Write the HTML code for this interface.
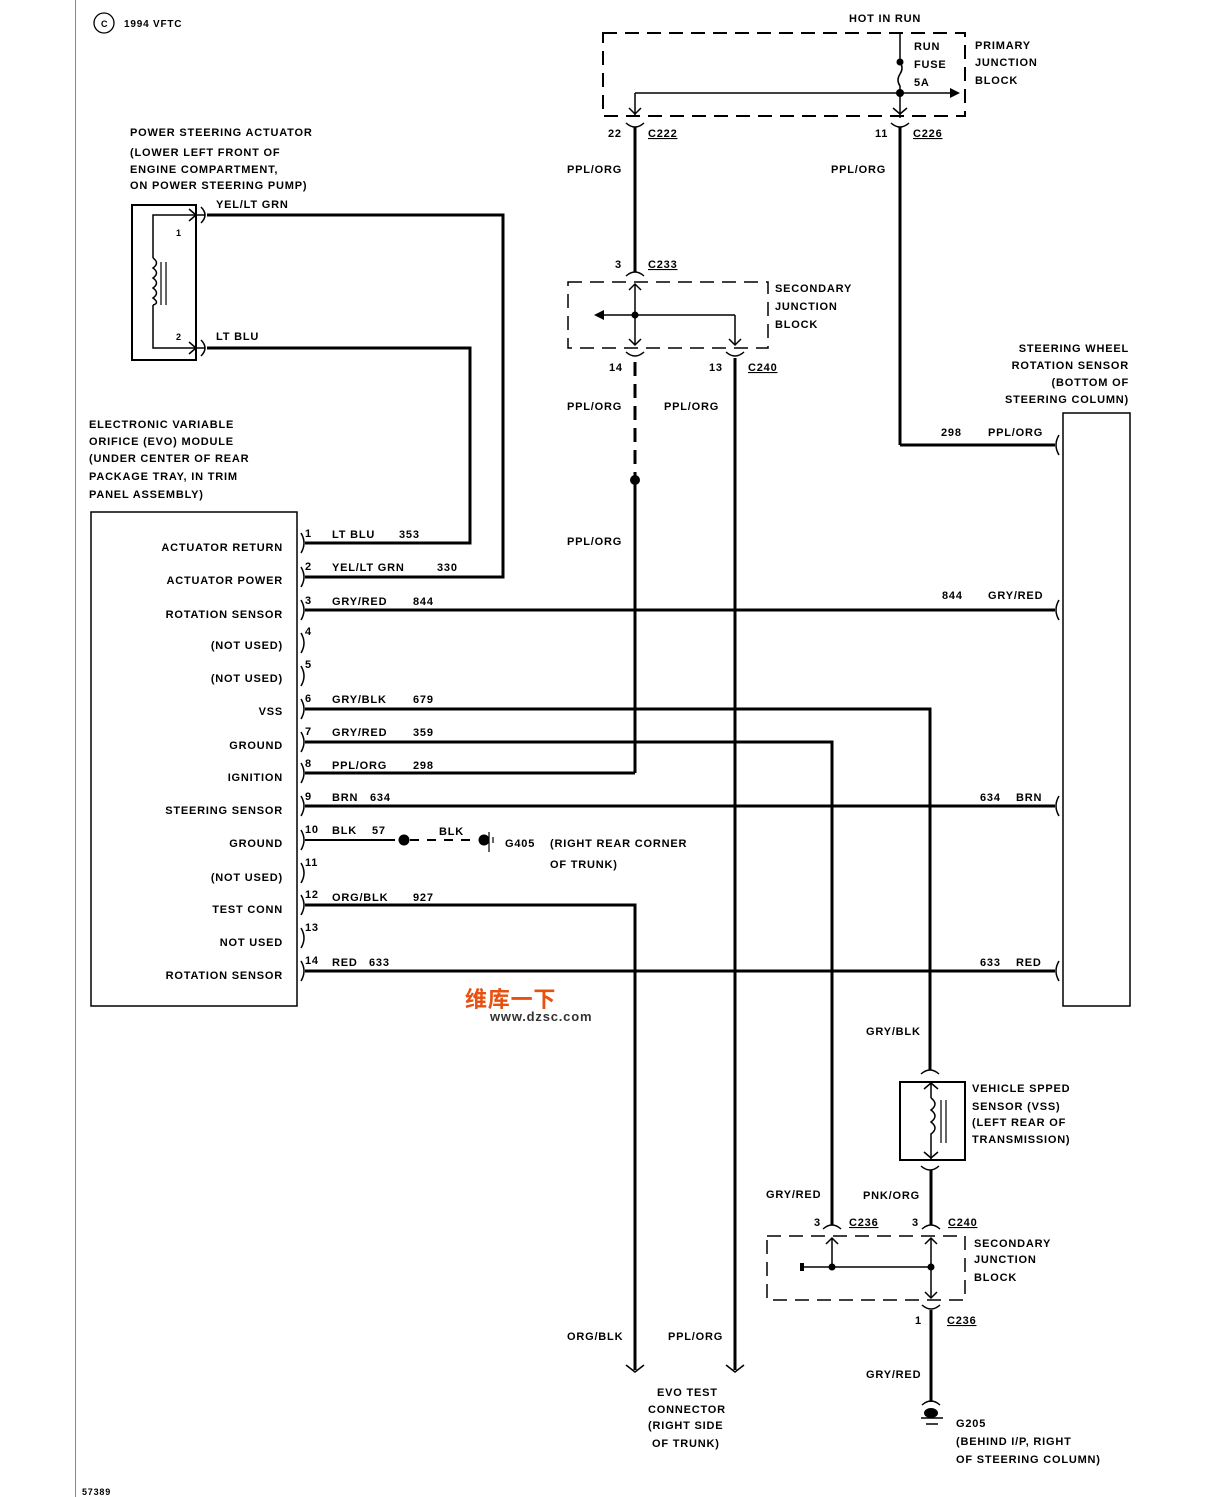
<!DOCTYPE html>
<html><head><meta charset="utf-8"><style>
html,body{margin:0;padding:0;background:#fff}
svg{display:block}
text{font-family:"Liberation Sans","Noto Sans CJK SC",sans-serif;font-size:11px;font-weight:bold;fill:#000;letter-spacing:0.8px}
.u{text-decoration:underline}
</style></head><body>
<svg width="1232" height="1497" viewBox="0 0 1232 1497" xmlns="http://www.w3.org/2000/svg">
<g stroke="#000" fill="none">
<line x1="75.5" y1="0" x2="75.5" y2="1497" stroke="#888" stroke-width="1"/>
<circle cx="104" cy="23" r="10" stroke-width="1.3"/>

<!-- primary JB -->
<rect x="603" y="33" width="362" height="83" stroke-width="2" stroke-dasharray="14,8"/>
<line x1="900" y1="33" x2="900" y2="62" stroke-width="1.5"/>
<path d="M900 62 q4 6 0 12 q-4 6 0 12 L900 118" stroke-width="1.5"/>
<line x1="635" y1="93" x2="955" y2="93" stroke-width="1.5"/>
<line x1="635" y1="93" x2="635" y2="116" stroke-width="1.5"/>
<path d="M629 108 L635 114 L641 108 M893 108 L900 114 L907 108" stroke-width="1.5"/>
<path d="M626 123 q9 8 18 0 M891 123 q9 8 18 0" stroke-width="1.5"/>
<!-- main wires -->
<line x1="635" y1="127" x2="635" y2="272" stroke-width="3"/>
<line x1="900" y1="127" x2="900" y2="445" stroke-width="3"/>
<line x1="900" y1="445" x2="1055" y2="445" stroke-width="3"/>

<!-- secondary JB top -->
<path d="M626 276 q9 -8 18 0" stroke-width="1.5"/>
<rect x="568" y="282" width="200" height="66" stroke-width="1.5" stroke-dasharray="14,8"/>
<path d="M629 290 L635 284 L641 290" stroke-width="1.5"/>
<line x1="635" y1="284" x2="635" y2="345" stroke-width="1.5"/>
<line x1="600" y1="315" x2="735" y2="315" stroke-width="1.5"/>
<line x1="735" y1="315" x2="735" y2="345" stroke-width="1.5"/>
<path d="M629 339 L635 345 L641 339 M729 339 L735 345 L741 339" stroke-width="1.5"/>
<path d="M626 352 q9 8 18 0 M726 352 q9 8 18 0" stroke-width="1.5"/>
<line x1="635" y1="362" x2="635" y2="480" stroke-width="3" stroke-dasharray="14,8"/>
<line x1="635" y1="480" x2="635" y2="773" stroke-width="3"/>
<line x1="735" y1="358" x2="735" y2="1370" stroke-width="3"/>

<!-- actuator -->
<rect x="132" y="205" width="64" height="155" stroke-width="2"/>
<path d="M205 215 L153 215 L153 258 M153 305 L153 348 L205 348" stroke-width="1.5"/>
<path d="M153 258 q7 5 0 10 q7 5 0 10 q7 5 0 10 q7 5 0 10 q7 5 0 7" stroke-width="1.5"/>
<line x1="161" y1="262" x2="161" y2="305" stroke-width="1.2"/>
<line x1="166" y1="262" x2="166" y2="305" stroke-width="1.2"/>
<path d="M189 209 L196 215 L189 221 M189 342 L196 348 L189 354" stroke-width="1.5"/>
<path d="M201 207 q8 8 0 16 M201 340 q8 8 0 16" stroke-width="1.5"/>
<path d="M207 215 L503 215 L503 577 L305 577" stroke-width="3"/>
<path d="M207 348 L470 348 L470 543 L305 543" stroke-width="3"/>

<!-- module -->
<rect x="91" y="512" width="206" height="494" stroke-width="1.5"/>
<g stroke-width="1.5">
<path d="M301 533 q6 10 0 20 M301 567 q6 10 0 20 M301 600 q6 10 0 20 M301 633 q6 10 0 20 M301 666 q6 10 0 20 M301 699 q6 10 0 20 M301 732 q6 10 0 20 M301 763 q6 10 0 20 M301 796 q6 10 0 20 M301 830 q6 10 0 20 M301 863 q6 10 0 20 M301 895 q6 10 0 20 M301 928 q6 10 0 20 M301 961 q6 10 0 20"/>
</g>
<line x1="305" y1="610" x2="1055" y2="610" stroke-width="3"/>
<path d="M305 709 L930 709 L930 1070" stroke-width="3"/>
<path d="M305 742 L832 742 L832 1225" stroke-width="3"/>
<line x1="305" y1="773" x2="635" y2="773" stroke-width="3"/>
<line x1="305" y1="806" x2="1055" y2="806" stroke-width="3"/>
<line x1="305" y1="840" x2="395" y2="840" stroke-width="2"/>
<line x1="410" y1="840" x2="478" y2="840" stroke-width="2" stroke-dasharray="9,8"/>
<line x1="489" y1="832" x2="489" y2="852" stroke-width="1.2"/>
<line x1="493" y1="837" x2="493" y2="843" stroke-width="1.2"/>
<path d="M305 905 L635 905 L635 1370" stroke-width="3"/>
<line x1="305" y1="971" x2="1055" y2="971" stroke-width="3"/>
<path d="M1059 435 q-6 10 0 20 M1059 600 q-6 10 0 20 M1059 796 q-6 10 0 20 M1059 961 q-6 10 0 20" stroke-width="1.5"/>
<rect x="1063" y="413" width="67" height="593" stroke-width="1.5"/>

<!-- VSS -->
<path d="M921 1074 q9 -8 18 0" stroke-width="1.5"/>
<rect x="900" y="1082" width="65" height="78" stroke-width="2"/>
<path d="M924 1089 L931 1083 L938 1089" stroke-width="1.5"/>
<line x1="931" y1="1083" x2="931" y2="1098" stroke-width="1.5"/>
<path d="M931 1098 q8 6 0 12 q8 6 0 12 q8 6 0 12 L931 1160" stroke-width="1.5"/>
<line x1="941" y1="1100" x2="941" y2="1143" stroke-width="1.2"/>
<line x1="946" y1="1100" x2="946" y2="1143" stroke-width="1.2"/>
<path d="M924 1152 L931 1158 L938 1152" stroke-width="1.5"/>
<path d="M921 1166 q9 8 18 0" stroke-width="1.5"/>
<line x1="931" y1="1170" x2="931" y2="1225" stroke-width="3"/>

<!-- secondary JB bottom -->
<path d="M823 1229 q9 -8 18 0 M922 1229 q9 -8 18 0" stroke-width="1.5"/>
<rect x="767" y="1236" width="198" height="64" stroke-width="1.5" stroke-dasharray="14,8"/>
<path d="M826 1244 L832 1238 L838 1244 M925 1244 L931 1238 L937 1244" stroke-width="1.5"/>
<line x1="832" y1="1238" x2="832" y2="1267" stroke-width="1.5"/>
<line x1="931" y1="1238" x2="931" y2="1298" stroke-width="1.5"/>
<line x1="802" y1="1267" x2="931" y2="1267" stroke-width="1.5"/>
<path d="M925 1292 L931 1298 L937 1292" stroke-width="1.5"/>
<path d="M922 1305 q9 8 18 0" stroke-width="1.5"/>
<line x1="931" y1="1310" x2="931" y2="1402" stroke-width="3"/>
<path d="M922 1405 q9 -8 18 0" stroke-width="1.5"/>
<line x1="921" y1="1418" x2="943" y2="1418" stroke-width="1.5"/>
<line x1="926" y1="1424" x2="938" y2="1424" stroke-width="1.5"/>
<path d="M626 1365 L635 1372 L644 1365 M726 1365 L735 1372 L744 1365" stroke-width="1.5"/>
</g>
<g fill="#000">
<circle cx="900" cy="62" r="3.5"/><circle cx="900" cy="93" r="4"/>
<path d="M950 88 L960 93 L950 98 Z"/>
<circle cx="635" cy="315" r="3.5"/><path d="M604 310 L594 315 L604 320 Z"/>
<circle cx="635" cy="480" r="5"/>
<circle cx="404" cy="840" r="5.5"/><circle cx="484" cy="840" r="5.5"/>
<circle cx="832" cy="1267" r="3.5"/><circle cx="931" cy="1267" r="3.5"/>
<rect x="800" y="1263" width="4" height="8"/>
<ellipse cx="931" cy="1413" rx="7" ry="5"/>
</g>

<text x="101" y="27" style="font-size:9px">C</text>
<text x="124" y="27" style="font-size:10px">1994 VFTC</text>
<text x="849" y="22">HOT IN RUN</text>
<text x="914" y="50">RUN</text><text x="914" y="68">FUSE</text><text x="914" y="86">5A</text>
<text x="975" y="49">PRIMARY</text><text x="975" y="66">JUNCTION</text><text x="975" y="84">BLOCK</text>
<text x="608" y="137">22</text><text x="648" y="137" class="u">C222</text>
<text x="875" y="137">11</text><text x="913" y="137" class="u">C226</text>
<text x="567" y="173">PPL/ORG</text><text x="831" y="173">PPL/ORG</text>
<text x="615" y="268">3</text><text x="648" y="268" class="u">C233</text>
<text x="775" y="292">SECONDARY</text><text x="775" y="310">JUNCTION</text><text x="775" y="328">BLOCK</text>
<text x="609" y="371">14</text><text x="709" y="371">13</text><text x="748" y="371" class="u">C240</text>
<text x="567" y="410">PPL/ORG</text><text x="664" y="410">PPL/ORG</text>
<text x="567" y="545">PPL/ORG</text>
<text x="130" y="136">POWER STEERING ACTUATOR</text>
<text x="130" y="156">(LOWER LEFT FRONT OF</text>
<text x="130" y="173">ENGINE COMPARTMENT,</text>
<text x="130" y="189">ON POWER STEERING PUMP)</text>
<text x="216" y="208">YEL/LT GRN</text><text x="216" y="340">LT BLU</text>
<text x="176" y="236" style="font-size:9px">1</text><text x="176" y="340" style="font-size:9px">2</text>
<text x="1129" y="352" text-anchor="end">STEERING WHEEL</text>
<text x="1129" y="369" text-anchor="end">ROTATION SENSOR</text>
<text x="1129" y="386" text-anchor="end">(BOTTOM OF</text>
<text x="1129" y="403" text-anchor="end">STEERING COLUMN)</text>
<text x="941" y="436">298</text><text x="988" y="436">PPL/ORG</text>
<text x="89" y="428">ELECTRONIC VARIABLE</text>
<text x="89" y="445">ORIFICE (EVO) MODULE</text>
<text x="89" y="462">(UNDER CENTER OF REAR</text>
<text x="89" y="480">PACKAGE TRAY, IN TRIM</text>
<text x="89" y="498">PANEL ASSEMBLY)</text>
<g text-anchor="end">
<text x="283" y="551">ACTUATOR RETURN</text>
<text x="283" y="584">ACTUATOR POWER</text>
<text x="283" y="618">ROTATION SENSOR</text>
<text x="283" y="649">(NOT USED)</text>
<text x="283" y="682">(NOT USED)</text>
<text x="283" y="715">VSS</text>
<text x="283" y="749">GROUND</text>
<text x="283" y="781">IGNITION</text>
<text x="283" y="814">STEERING SENSOR</text>
<text x="283" y="847">GROUND</text>
<text x="283" y="881">(NOT USED)</text>
<text x="283" y="913">TEST CONN</text>
<text x="283" y="946">NOT USED</text>
<text x="283" y="979">ROTATION SENSOR</text>
</g>
<g style="font-size:8px">
<text x="305" y="537">1</text><text x="305" y="570">2</text><text x="305" y="604">3</text><text x="305" y="635">4</text><text x="305" y="668">5</text><text x="305" y="702">6</text><text x="305" y="735">7</text><text x="305" y="767">8</text><text x="305" y="800">9</text><text x="305" y="833">10</text><text x="305" y="866">11</text><text x="305" y="898">12</text><text x="305" y="931">13</text><text x="305" y="964">14</text>
</g>
<text x="332" y="538">LT BLU</text><text x="399" y="538">353</text>
<text x="332" y="571">YEL/LT GRN</text><text x="437" y="571">330</text>
<text x="332" y="605">GRY/RED</text><text x="413" y="605">844</text>
<text x="332" y="703">GRY/BLK</text><text x="413" y="703">679</text>
<text x="332" y="736">GRY/RED</text><text x="413" y="736">359</text>
<text x="332" y="769">PPL/ORG</text><text x="413" y="769">298</text>
<text x="332" y="801">BRN</text><text x="370" y="801">634</text>
<text x="332" y="834">BLK</text><text x="372" y="834">57</text>
<text x="439" y="835">BLK</text>
<text x="505" y="847">G405</text>
<text x="550" y="847">(RIGHT REAR CORNER</text>
<text x="550" y="868">OF TRUNK)</text>
<text x="332" y="901">ORG/BLK</text><text x="413" y="901">927</text>
<text x="332" y="966">RED</text><text x="369" y="966">633</text>
<text x="942" y="599">844</text><text x="988" y="599">GRY/RED</text>
<text x="980" y="801">634</text><text x="1016" y="801">BRN</text>
<text x="980" y="966">633</text><text x="1016" y="966">RED</text>
<text x="866" y="1035">GRY/BLK</text>
<text x="972" y="1092">VEHICLE SPPED</text><text x="972" y="1110">SENSOR (VSS)</text>
<text x="972" y="1126">(LEFT REAR OF</text><text x="972" y="1143">TRANSMISSION)</text>
<text x="766" y="1198">GRY/RED</text><text x="863" y="1199">PNK/ORG</text>
<text x="814" y="1226">3</text><text x="849" y="1226" class="u">C236</text>
<text x="912" y="1226">3</text><text x="948" y="1226" class="u">C240</text>
<text x="974" y="1247">SECONDARY</text><text x="974" y="1263">JUNCTION</text><text x="974" y="1281">BLOCK</text>
<text x="915" y="1324">1</text><text x="947" y="1324" class="u">C236</text>
<text x="567" y="1340">ORG/BLK</text><text x="668" y="1340">PPL/ORG</text>
<text x="866" y="1378">GRY/RED</text>
<text x="657" y="1396">EVO TEST</text><text x="648" y="1413">CONNECTOR</text>
<text x="648" y="1429">(RIGHT SIDE</text><text x="652" y="1447">OF TRUNK)</text>
<text x="956" y="1427">G205</text>
<text x="956" y="1445">(BEHIND I/P, RIGHT</text>
<text x="956" y="1463">OF STEERING COLUMN)</text>
<text x="82" y="1495" style="font-size:9px">57389</text>
<text x="465" y="1007" style="font-size:22px;fill:#e85010;font-weight:bold">维库一下</text>
<text x="490" y="1021" style="font-size:13px;fill:#333">www.dzsc.com</text>
</svg>
</body></html>
